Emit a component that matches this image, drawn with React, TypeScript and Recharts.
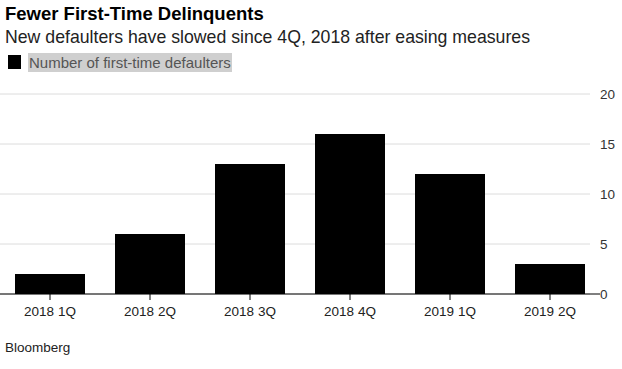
import React from "react";
import { BarChart, Bar, XAxis, YAxis, CartesianGrid } from "recharts";

const categories = ["2018 1Q", "2018 2Q", "2018 3Q", "2018 4Q", "2019 1Q", "2019 2Q"];
const defaulters = [2, 6, 13, 16, 12, 3];
const yTicks = [0, 5, 10, 15, 20];

const data = categories.map((c, i) => ({ name: c, value: defaulters[i] }));

const FONT = "'Liberation Sans', Arial, sans-serif";

const gridLine = (props: any) => (
  <line
    key={props.key ?? `${props.y1}`}
    x1={props.x1}
    x2={props.x2 - 10}
    y1={props.y1}
    y2={props.y2}
    stroke="#dcdcdc"
    strokeWidth={1}
  />
);

export default function App() {
  return (
    <div style={{ position: "absolute", left: 0, top: 0, width: 622, height: 369, background: "#fff", fontFamily: FONT }}>
      <div style={{ position: "absolute", left: 5, top: 3, fontSize: 18.5, fontWeight: 700, color: "#000", whiteSpace: "nowrap" }}>
        Fewer First-Time Delinquents
      </div>
      <div style={{ position: "absolute", left: 5, top: 27, fontSize: 17.7, color: "#222", whiteSpace: "nowrap" }}>
        New defaulters have slowed since 4Q, 2018 after easing measures
      </div>
      <div style={{ position: "absolute", left: 8, top: 55, width: 13, height: 14, background: "#000" }} />
      <div style={{ position: "absolute", left: 28, top: 53, height: 19, lineHeight: "19px", padding: "0 1px", fontSize: 15, color: "#555", background: "#cfcfcf", whiteSpace: "nowrap" }}>
        Number of first-time defaulters
      </div>
      <BarChart width={622} height={369} data={data} margin={{ top: 94, right: 0, bottom: 45, left: 0 }} barCategoryGap="15%">
        <CartesianGrid horizontal={gridLine} vertical={false} stroke="#dcdcdc" />
        <XAxis
          dataKey="name"
          axisLine={{ stroke: "#000" }}
          tickLine={{ stroke: "#000" }}
          tickSize={6}
          tickMargin={6}
          height={30}
          tick={{ fontSize: 13.5, fill: "#222", fontFamily: FONT }}
          interval={0}
        />
        <YAxis
          orientation="right"
          domain={[0, 20]}
          ticks={yTicks}
          width={22}
          axisLine={false}
          tickLine={false}
          tickSize={0}
          tickMargin={0}
          tick={{ fontSize: 13.5, fill: "#333", fontFamily: FONT, textAnchor: "start" }}
        />
        <Bar dataKey="value" fill="#000" isAnimationActive={false} />
      </BarChart>
      <div style={{ position: "absolute", left: 5, top: 340, fontSize: 13.5, color: "#222" }}>Bloomberg</div>
    </div>
  );
}
